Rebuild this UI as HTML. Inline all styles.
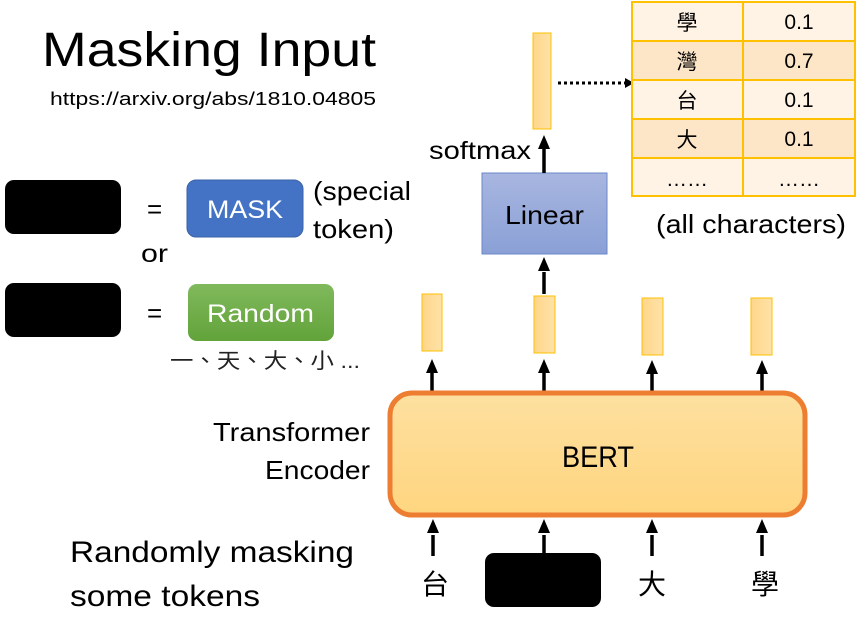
<!DOCTYPE html>
<html><head><meta charset="utf-8"><style>
body{margin:0;background:#fff;width:864px;height:629px;overflow:hidden}
svg text{font-family:"Liberation Sans","Noto Sans CJK TC",sans-serif}
</style></head><body>
<svg width="864" height="629" viewBox="0 0 864 629" xmlns="http://www.w3.org/2000/svg">
<defs>
<linearGradient id="y" x1="0" y1="0" x2="1" y2="0"><stop offset="0" stop-color="#ffd68a"/><stop offset="1" stop-color="#ffe2a8"/></linearGradient>
<linearGradient id="b" x1="0" y1="0" x2="0" y2="1"><stop offset="0" stop-color="#fde0a0"/><stop offset="1" stop-color="#ffd57f"/></linearGradient>
<linearGradient id="l" x1="0" y1="0" x2="0" y2="1"><stop offset="0" stop-color="#a8b6e0"/><stop offset="1" stop-color="#8aa0d6"/></linearGradient>
<linearGradient id="g" x1="0" y1="0" x2="0" y2="1"><stop offset="0" stop-color="#80b95c"/><stop offset="1" stop-color="#62a33a"/></linearGradient>
</defs>
<text x="42" y="66" font-size="48" textLength="334" lengthAdjust="spacingAndGlyphs">Masking Input</text>
<text x="50" y="105" font-size="18" textLength="326" lengthAdjust="spacingAndGlyphs">https://arxiv.org/abs/1810.04805</text>
<rect x="5" y="180" width="116" height="54" rx="9" fill="#000"/>
<text x="147" y="218" font-size="26">=</text>
<rect x="187" y="180" width="116" height="57" rx="9" fill="#4472c4" stroke="#3a62a8"/>
<text x="207" y="218" font-size="25" fill="#fff" textLength="76" lengthAdjust="spacingAndGlyphs">MASK</text>
<text x="313" y="200" font-size="26" textLength="98" lengthAdjust="spacingAndGlyphs">(special</text>
<text x="313" y="238" font-size="26" textLength="81" lengthAdjust="spacingAndGlyphs">token)</text>
<text x="141" y="262" font-size="25" textLength="27" lengthAdjust="spacingAndGlyphs">or</text>
<rect x="5" y="283" width="116" height="54" rx="9" fill="#000"/>
<text x="147" y="322" font-size="26">=</text>
<rect x="188" y="284" width="146" height="57" rx="9" fill="url(#g)"/>
<text x="207" y="322" font-size="25" fill="#fff" textLength="107" lengthAdjust="spacingAndGlyphs">Random</text>
<text x="170" y="368" font-size="21" fill="#222" textLength="190" lengthAdjust="spacingAndGlyphs">一、天、大、小 ...</text>
<text x="213" y="441" font-size="26" textLength="157" lengthAdjust="spacingAndGlyphs">Transformer</text>
<text x="265" y="479" font-size="26" textLength="105" lengthAdjust="spacingAndGlyphs">Encoder</text>
<text x="70" y="562" font-size="30" textLength="284" lengthAdjust="spacingAndGlyphs">Randomly masking</text>
<text x="70" y="606" font-size="30" textLength="190" lengthAdjust="spacingAndGlyphs">some tokens</text>
<!-- linear -->
<rect x="482" y="173" width="125" height="81" fill="url(#l)" stroke="#6b87c8"/>
<text x="505" y="224" font-size="26" textLength="79" lengthAdjust="spacingAndGlyphs">Linear</text>
<rect x="533" y="33" width="18" height="96" fill="url(#y)" stroke="#ffc000"/>
<text x="429" y="159" font-size="25" textLength="102" lengthAdjust="spacingAndGlyphs">softmax</text>
<line x1="558" y1="83" x2="626" y2="83" stroke="#000" stroke-width="3" stroke-dasharray="3,3"/>
<path d="M625,78 L634,83 L625,88z"/>
<!-- table -->
<g stroke="#ffc000" stroke-width="2">
<rect x="632" y="2" width="223" height="39" fill="#fff3e6"/>
<rect x="632" y="41" width="223" height="39" fill="#fde6c8"/>
<rect x="632" y="80" width="223" height="39" fill="#fff3e6"/>
<rect x="632" y="119" width="223" height="39" fill="#fde6c8"/>
<rect x="632" y="158" width="223" height="38" fill="#fff3e6"/>
<line x1="743" y1="2" x2="743" y2="196"/>
</g>
<g font-size="21" text-anchor="middle">
<text x="687" y="30">學</text><text x="799" y="29">0.1</text>
<text x="687" y="69">灣</text><text x="799" y="68">0.7</text>
<text x="687" y="108">台</text><text x="799" y="107">0.1</text>
<text x="687" y="147">大</text><text x="799" y="146">0.1</text>
<text x="687" y="186">……</text><text x="799" y="186">……</text>
</g>
<text x="656" y="233" font-size="26" textLength="190" lengthAdjust="spacingAndGlyphs">(all characters)</text>
<!-- vectors -->
<g fill="url(#y)" stroke="#ffc000">
<rect x="422" y="294" width="20" height="57"/>
<rect x="534" y="296" width="21" height="57"/>
<rect x="642" y="298" width="21" height="57"/>
<rect x="751" y="298" width="21" height="57"/>
</g>
<g stroke="#000" stroke-width="3.5">
<line x1="544" y1="173" x2="544" y2="148"/>
<line x1="544" y1="294" x2="544" y2="272"/>
<line x1="432" y1="392" x2="432" y2="372"/>
<line x1="544" y1="392" x2="544" y2="372"/>
<line x1="652" y1="392" x2="652" y2="372"/>
<line x1="762" y1="392" x2="762" y2="372"/>
<line x1="433" y1="556" x2="433" y2="535"/>
<line x1="544" y1="556" x2="544" y2="535"/>
<line x1="652" y1="556" x2="652" y2="535"/>
<line x1="762" y1="556" x2="762" y2="535"/>
</g>
<g fill="#000">
<path d="M544,135 l-6,14 h12z"/>
<path d="M544,257 l-6,14 h12z"/>
<path d="M432,359 l-6,14 h12z"/>
<path d="M544,359 l-6,14 h12z"/>
<path d="M652,360 l-6,14 h12z"/>
<path d="M762,360 l-6,14 h12z"/>
<path d="M433,519 l-6,14 h12z"/>
<path d="M544,519 l-6,14 h12z"/>
<path d="M652,519 l-6,14 h12z"/>
<path d="M762,519 l-6,14 h12z"/>
</g>
<rect x="390" y="393" width="415" height="122" rx="22" fill="url(#b)" stroke="#ed7d31" stroke-width="5"/>
<text x="562" y="467" font-size="30" textLength="72" lengthAdjust="spacingAndGlyphs">BERT</text>
<rect x="485" y="553" width="116" height="54" rx="9" fill="#000"/>
<g font-size="28" text-anchor="middle">
<text x="435" y="594">台</text><text x="652" y="594">大</text><text x="765" y="594">學</text>
</g>
</svg>
</body></html>
